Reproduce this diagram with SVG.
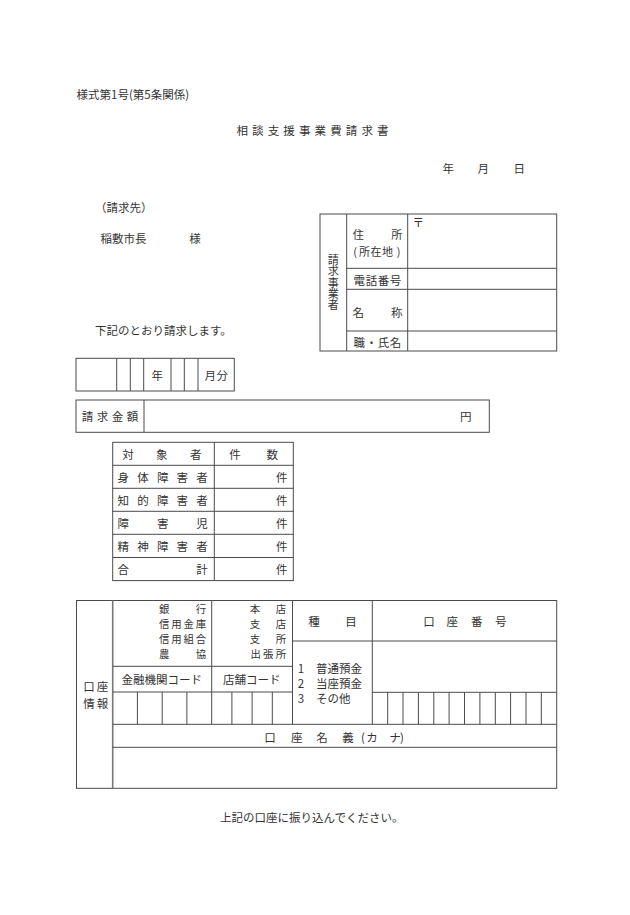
<svg xmlns="http://www.w3.org/2000/svg" width="630" height="915" viewBox="0 0 630 915">
<style>
text{font-family:"Noto Sans CJK JP","Noto Sans CJK SC",sans-serif;font-size:11.5px;fill:#333;dominant-baseline:central}
.c{text-anchor:middle}
.sm{font-size:10.4px}
.s11{font-size:11px}
.v{font-size:11px;writing-mode:vertical-rl;letter-spacing:0.3px}
.ln{stroke:#4a4a4a;stroke-width:1;fill:none}
</style>
<rect width="630" height="915" fill="#fff"/>

<g id="header">
<text x="76.5" y="93.5">様式第1号(第5条関係)</text>
<text x="236.5" y="130" textLength="152" lengthAdjust="spacing">相談支援事業費請求書</text>
<text class="c" x="448.3 483.3 519.3" y="167.7">年月日</text>
<text x="95" y="207">（請求先）</text>
<text x="100.5" y="237.7">稲敷市長</text>
<text class="c" x="195" y="237.7">様</text>
<text x="95" y="330">下記のとおり請求します。</text>
</g>

<g id="claimant">
<rect class="ln" x="320" y="214" width="236.7" height="137"/>
<path class="ln" d="M346.7 214V351M407.7 214V351M346.7 268.3H556.7M346.7 289.3H556.7M346.7 331H556.7"/>
<text class="v" x="333.3" y="254.5">請求事業者</text>
<text class="c s11" x="358.3 396.7" y="234">住所</text>
<text class="c s11" x="355 364.5 376 387.5 398.5" y="250.6">(所在地)</text>
<text class="c" x="359.3 371.4 383.5 395.6" y="280">電話番号</text>
<text class="c" x="358.3 396.7" y="311.7">名称</text>
<text class="c" x="359.3 371.4 383.5 395.6" y="341.7">職・氏名</text>
<text class="c" x="418.3" y="221.7">〒</text>
</g>

<g id="period">
<rect class="ln" x="76" y="358.3" width="158.3" height="32.7"/>
<path class="ln" d="M116.7 358.3V391M130.3 358.3V391M143.7 358.3V391M171 358.3V391M184.3 358.3V391M198 358.3V391"/>
<text class="c" x="157.3" y="374.6">年</text>
<text class="c" x="210.3 222.3" y="374.6">月分</text>
</g>

<g id="amount">
<rect class="ln" x="76" y="400" width="413.3" height="32.3"/>
<path class="ln" d="M144 400V432.3"/>
<text class="c" x="87.5 102.5 117.5 132.5" y="416.2">請求金額</text>
<text class="c" x="465.7" y="416.2">円</text>
</g>

<g id="counts">
<rect class="ln" x="112.7" y="442.3" width="180.6" height="138.3"/>
<path class="ln" d="M214.3 442.3V580.6M112.7 465.3H293.3M112.7 488.3H293.3M112.7 511.3H293.3M112.7 534.3H293.3M112.7 557.5H293.3"/>
<text class="c" x="128 161.7 195.7" y="453.8">対象者</text>
<text class="c" x="235 272.3" y="453.8">件数</text>
<text class="c" x="123.3 143 162.7 182.3 202" y="476.8">身体障害者</text>
<text class="c" x="123.3 143 162.7 182.3 202" y="499.8">知的障害者</text>
<text class="c" x="123.3 162.7 202" y="522.8">障害児</text>
<text class="c" x="123.3 143 162.7 182.3 202" y="545.9">精神障害者</text>
<text class="c" x="123.3 202" y="569">合計</text>
<text class="c" x="281.7" y="476.8">件</text>
<text class="c" x="281.7" y="499.8">件</text>
<text class="c" x="281.7" y="522.8">件</text>
<text class="c" x="281.7" y="545.9">件</text>
<text class="c" x="281.7" y="569">件</text>
</g>

<g id="bank">
<rect class="ln" x="76.5" y="600.5" width="480.2" height="187.8"/>
<path d="M112.7 600.5V788.3" stroke="#777" stroke-width="1.6" fill="none"/>
<path class="ln" d="M211.7 600.5V724.3M292.5 600.5V724.3M372.3 600.5V724.3M112.7 666.3H292.5M112.7 692H292.5M292.5 641H556.7M372.3 692.3H556.7M112.7 724.3H556.7M112.7 747.3H556.7"/>
<path class="ln" d="M137.4 692V724.3M162.2 692V724.3M186.9 692V724.3M231.9 692V724.3M252.1 692V724.3M272.3 692V724.3"/>
<path class="ln" d="M387.7 692.3V724.3M403 692.3V724.3M418.4 692.3V724.3M433.8 692.3V724.3M449.1 692.3V724.3M464.5 692.3V724.3M479.9 692.3V724.3M495.3 692.3V724.3M510.6 692.3V724.3M526 692.3V724.3M541.3 692.3V724.3"/>
<text class="c sm"><tspan x="164.3 200.9" y="608">銀行</tspan><tspan x="164.3 176.5 188.7 200.9" y="623.1">信用金庫</tspan><tspan x="164.3 176.5 188.7 200.9" y="638.2">信用組合</tspan><tspan x="164.3 200.9" y="653.3">農協</tspan></text>
<text class="c sm"><tspan x="255 281" y="608">本店</tspan><tspan x="255 281" y="623.1">支店</tspan><tspan x="255 281" y="638.2">支所</tspan><tspan x="255.6 268.3 281" y="653.3">出張所</tspan></text>
<text class="c" x="161.7" y="679">金融機関コード</text>
<text class="c" x="251.7" y="679">店舗コード</text>
<text class="c" x="314 351" y="621">種目</text>
<text class="c" x="429 452.3 476.7 500.7" y="621">口座番号</text>
<text class="c" x="301" y="667.7">1</text>
<text x="316" y="667.7">普通預金</text>
<text class="c" x="301" y="682.7">2</text>
<text x="316" y="682.7">当座預金</text>
<text class="c" x="301" y="698.3">3</text>
<text x="316" y="698.3">その他</text>
<text class="c" x="89 102.5" y="685.7">口座</text>
<text class="c" x="89 102.5" y="703.3">情報</text>
<text class="c" x="270 296.7 322 348 363 372 395 402" y="737">口座名義(カナ)</text>
</g>

<g id="footer">
<text x="220" y="817">上記の口座に振り込んでください。</text>
</g>
</svg>
